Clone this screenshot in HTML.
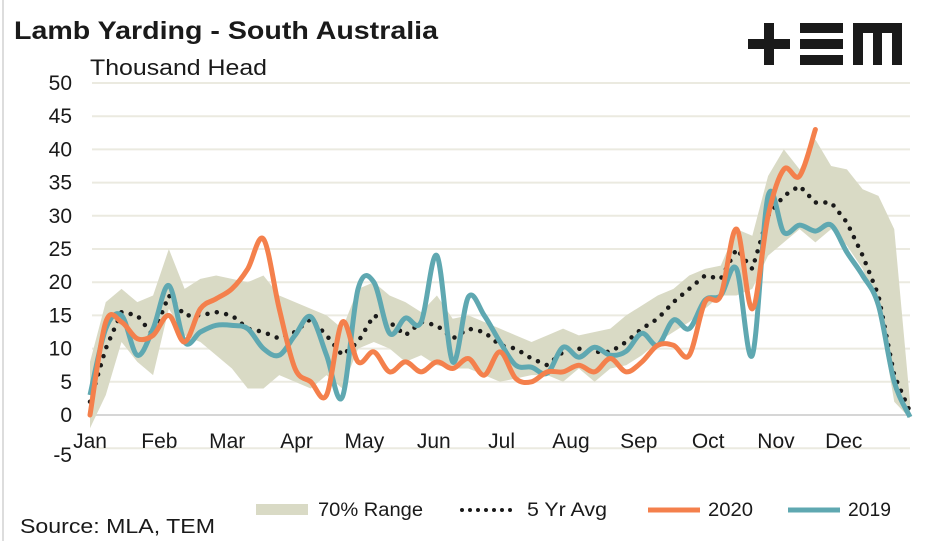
<!DOCTYPE html>
<html><head><meta charset="utf-8"><style>
body{margin:0;background:#fff;width:947px;height:541px;overflow:hidden;font-family:"Liberation Sans",sans-serif;}
svg text{font-family:"Liberation Sans",sans-serif;fill:#1a1a1a;}
</style></head><body>
<svg id="c" width="947" height="541" xmlns="http://www.w3.org/2000/svg">
<line x1="3" y1="0" x2="3" y2="541" stroke="#ddd" stroke-width="2"/>
<text x="14" y="39" font-size="25" font-weight="bold" textLength="424" lengthAdjust="spacingAndGlyphs">Lamb Yarding - South Australia</text>
<text x="90" y="75" font-size="22" textLength="177" lengthAdjust="spacingAndGlyphs">Thousand Head</text>
<g fill="#1a1a1a">
<rect x="748" y="39" width="42" height="10"/><rect x="764" y="23" width="10" height="42"/>
<rect x="800" y="23" width="43" height="10"/><rect x="800" y="39" width="43" height="10"/><rect x="800" y="55" width="43" height="10"/>
<rect x="853" y="23" width="49" height="10"/><rect x="853" y="23" width="10" height="42"/><rect x="873" y="23" width="9" height="42"/><rect x="892" y="23" width="10" height="42"/>
</g>
<g id="grid"></g><g id="band"></g><g id="lines"></g><g id="axes"></g>
<g>
<rect x="256" y="504" width="52" height="11" fill="#d9dac5"/>
<text x="318" y="516" font-size="19" textLength="105" lengthAdjust="spacingAndGlyphs">70% Range</text>
<line x1="462" y1="510" x2="514" y2="510" stroke="#1a1a1a" stroke-width="4" stroke-linecap="round" stroke-dasharray="0 8"/>
<text x="527" y="516" font-size="19" textLength="80" lengthAdjust="spacingAndGlyphs">5 Yr Avg</text>
<line x1="648" y1="510" x2="700" y2="510" stroke="#f4804c" stroke-width="5"/>
<text x="708" y="516" font-size="19" textLength="45" lengthAdjust="spacingAndGlyphs">2020</text>
<line x1="788" y1="510" x2="840" y2="510" stroke="#5fa8b1" stroke-width="5"/>
<text x="848" y="516" font-size="19" textLength="43" lengthAdjust="spacingAndGlyphs">2019</text>
</g>
<text x="20" y="533" font-size="20" textLength="195" lengthAdjust="spacingAndGlyphs">Source: MLA, TEM</text>
</svg>
<script>
const months=["Jan","Feb","Mar","Apr","May","Jun","Jul","Aug","Sep","Oct","Nov","Dec"];
const monthWeeks=[0,4.4,8.7,13.1,17.4,21.8,26.1,30.5,34.8,39.2,43.5,47.8];
const yTicks=[-5,0,5,10,15,20,25,30,35,40,45,50];
const s2019=[3,13,15,9,13,19.5,11,12.5,13.5,13.5,13,10,9,12,14.8,9,2.7,19,20,12.3,14.6,14,24,8,17.8,15,11,7.5,7.2,6.3,10.2,8.7,10.2,9,9.6,12.3,10.5,14.3,13,17.3,18,22,9,33,27.5,28.6,27.7,28.6,24.5,21,16.5,5,-0.3];
const s2020=[0,14,14,11.5,12,15,11,16,17.5,19,22,26.5,16,7,5,3,14,8,9.5,6.5,8,6.5,8,7,8.5,6,9.5,5.5,5,6.5,6.5,7.5,6.5,8.5,6.5,8,10.5,10.5,9,17,18,28,16,30,37,36,43];
const avg5=[2,10,15.5,15,12,18,15,15,15.5,15,13,12.5,11.5,12.5,14.5,12,9,11,15,14,12,14,13.5,11.5,13,12.5,10.5,10,8.5,7.5,9.5,10,9.5,9.5,11,13,14.5,17,19,21,20.5,25,22,30,33,34.5,32,32,29,24,18,6,0.5];
const rangeHi=[8,17,19,17,18,25,19,20.5,21,20.5,20,21,18,17,16,15,13,19,20,18,17,15.5,18,14.5,15,14,13,12,11,12,13,12,12.5,13,15,16.5,18,19,21,22,22.5,28,27,36,40,37,41.5,37.5,37,34,33,28,2];
const rangeLo=[-2,3,11,8,6,16,12,11,9,7,4,4,6,5,4,6,4,10,11,10,8,9,7.5,7,7,6,5,5.5,6,6,5,7,5,7,7.5,9,11,12.5,14,16,18,18,19,24,26,28,26,28,25.5,22,16,2,-0.5];
const X=w=>90+w*820/52, Y=v=>415-v*6.64;
const NS="http://www.w3.org/2000/svg";
function mk(parent,tag,attrs){const e=document.createElementNS(NS,tag);for(const k in attrs)e.setAttribute(k,attrs[k]);document.getElementById(parent).appendChild(e);return e;}
yTicks.forEach(t=>{
 const l=mk("grid","line",{x1:92,x2:910,y1:Y(t),y2:Y(t),stroke:t===0?"#d6d6d6":"#ebeae0","stroke-width":2});
 
 
 const tx=mk("axes","text",{x:72,y:Y(t)+(t<0?14:7),"font-size":21,"text-anchor":"end"});
 tx.textContent=t;
 
 
});
months.forEach((m,i)=>{
 const tx=mk("axes","text",{x:X(monthWeeks[i]),y:448,"font-size":21,"text-anchor":"middle"});
 tx.textContent=m;
 
 
});
let bp=rangeHi.map((v,i)=>X(i)+","+Y(v)).concat(rangeLo.map((v,i)=>[i,v]).reverse().map(p=>X(p[0])+","+Y(p[1])));
const band=mk("band","polygon",{points:bp.join(" "),fill:"#d9dac5"});


function smooth(arr){const p=arr.map((v,i)=>[X(i),Y(v)]);let d="M"+p[0];for(let i=0;i<p.length-1;i++){const a=p[i-1]||p[i],b=p[i],c=p[i+1],e=p[i+2]||c;d+=" C"+(b[0]+(c[0]-a[0])/6)+","+(b[1]+(c[1]-a[1])/6)+" "+(c[0]-(e[0]-b[0])/6)+","+(c[1]-(e[1]-b[1])/6)+" "+c;}return d;}
const pa=mk("lines","polyline",{points:avg5.map((v,i)=>X(i)+","+Y(v)).join(" "),fill:"none",stroke:"#1a1a1a","stroke-width":4.5,"stroke-linecap":"round","stroke-dasharray":"0 9.5"});


const p19=mk("lines","path",{d:smooth(s2019),fill:"none",stroke:"#5fa8b1","stroke-width":5,"stroke-linejoin":"round"});


const p20=mk("lines","path",{d:smooth(s2020),fill:"none",stroke:"#f4804c","stroke-width":5,"stroke-linejoin":"round","stroke-linecap":"round"});


</script>
</body></html>
